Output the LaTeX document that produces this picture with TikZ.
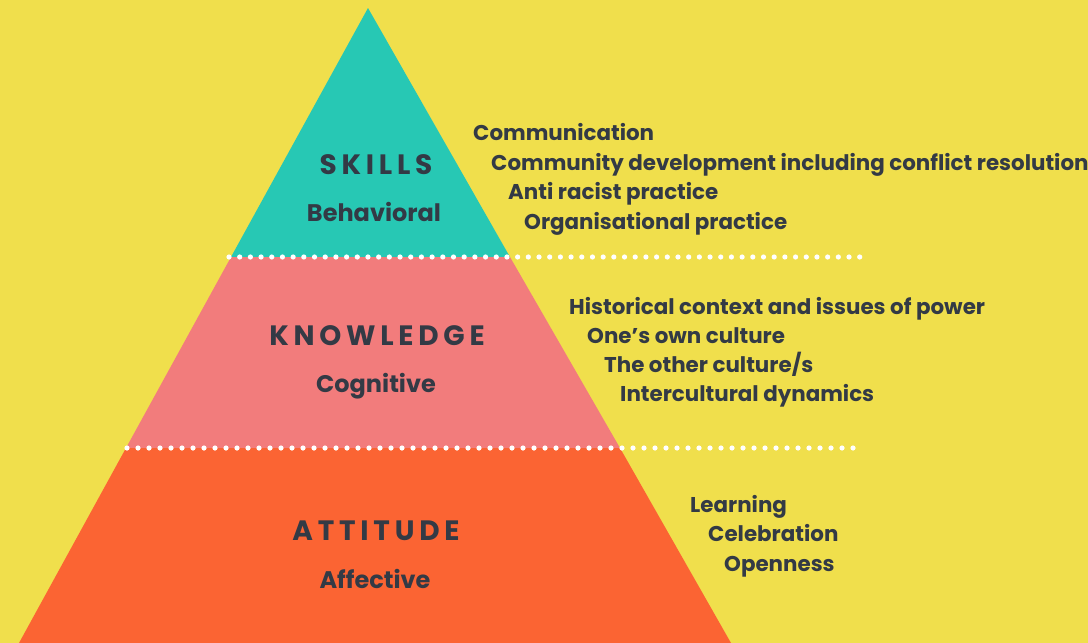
\documentclass[tikz,border=0pt]{standalone}
\usepackage{fontspec}
\setmainfont{Poppins}
\newfontfamily\spaced{Poppins}[LetterSpace=17]
\definecolor{bg}{HTML}{F0DF4C}
\definecolor{teal}{HTML}{27C8B4}
\definecolor{pinkc}{HTML}{F27C7C}
\definecolor{orangec}{HTML}{FB6433}
\definecolor{ink}{HTML}{333A45}
\begin{document}
\begin{tikzpicture}[x=1pt,y=-1pt,
  lbl/.style={anchor=base west,inner sep=0pt,text=ink,font=\bfseries\fontsize{21.4}{24}\selectfont},
  ttl/.style={anchor=base,inner sep=0pt,text=ink,font=\spaced\bfseries\fontsize{28}{30}\selectfont},
  sub/.style={anchor=base,inner sep=0pt,text=ink,font=\bfseries\fontsize{24}{26}\selectfont}]
\fill[bg] (0,0) rectangle (1088,643);
\useasboundingbox (0,0) rectangle (1088,643);
\coordinate (apex) at (368,8);
\coordinate (l1) at (231,257);
\coordinate (r1) at (510,257);
\coordinate (l2) at (126,448);
\coordinate (r2) at (620,448);
\coordinate (l3) at (19,643);
\coordinate (r3) at (731,643);
\fill[teal] (apex) -- (r1) -- (l1) -- cycle;
\fill[pinkc] (l1) -- (r1) -- (r2) -- (l2) -- cycle;
\fill[orangec] (l2) -- (r2) -- (r3) -- (l3) -- cycle;
\foreach \i in {0,...,59} {\fill[white] (229+\i*10.69,257) circle (2.6);}
\foreach \i in {0,...,66} {\fill[white] (127+\i*11.0,448) circle (2.6);}
\node[ttl] (skills) at (376,174) {SKILLS};
\node[sub] (beh) at (374,221) {Behavioral};
\node[ttl] (know) at (377,345.5) {KNOWLEDGE};
\node[sub] (cog) at (376,392) {Cognitive};
\node[ttl] (att) at (376,540.5) {ATTITUDE};
\node[sub] (aff) at (375,588) {Affective};
\node[lbl] (s1) at (473,140) {Communication};
\node[lbl] (s2) at (491,170) {Community development including conflict resolution};
\node[lbl] (s3) at (508,199.5) {Anti racist practice};
\node[lbl] (s4) at (524,229) {Organisational practice};
\node[lbl] (k1) at (569,314.7) {Historical context and issues of power};
\node[lbl] (k2) at (587,343.3) {One’s own culture};
\node[lbl] (k3) at (604,372.7) {The other culture/s};
\node[lbl] (k4) at (620,401.3) {Intercultural dynamics};
\node[lbl] (a1) at (690,512) {Learning};
\node[lbl] (a2) at (708,541.3) {Celebration};
\node[lbl] (a3) at (724,571.3) {Openness};
\end{tikzpicture}
\end{document}
